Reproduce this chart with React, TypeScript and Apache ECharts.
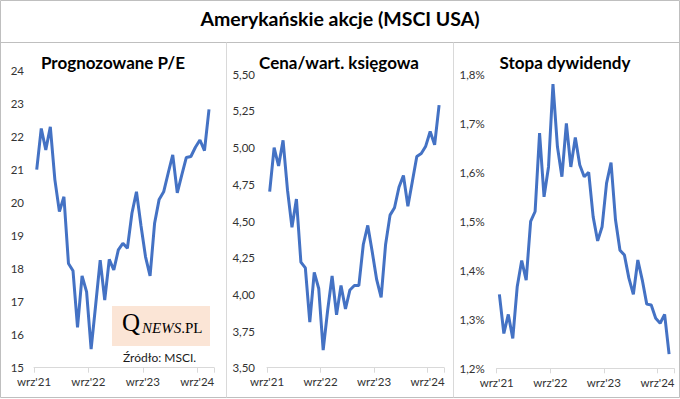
import React, { useEffect, useRef } from "react";
import * as echarts from "echarts";

// X axis: months counted from wrz'21 (September 2021); one point per month-end
const tickLabels = ["wrz'21", "wrz'22", "wrz'23", "wrz'24"];
const monthsPerTick = 12;
const firstPointOffset = 0.6;
const axisMonths = 39.7;

const panelTitles = ["Prognozowane P/E", "Cena/wart. księgowa", "Stopa dywidendy"];
const mainTitle = "Amerykańskie akcje (MSCI USA)";
const sourceText = "Źródło: MSCI.";

// Forward P/E (Sep 2021 .. Nov 2024)
const peForward = [
  21.0, 22.25, 21.6, 22.3, 20.7, 19.73, 20.18, 18.16, 17.94, 16.22, 17.78, 17.3, 15.56,
  16.9, 18.26, 17.05, 18.28, 17.96, 18.57, 18.77, 18.62, 19.68, 20.33, 19.3, 18.36, 17.78,
  19.38, 20.1, 20.33, 20.9, 21.45, 20.3, 20.84, 21.37, 21.4, 21.68, 21.9, 21.58, 22.83,
];
// Price / book value
const priceToBook = [
  4.7, 5.0, 4.875, 5.05, 4.71, 4.457, 4.65, 4.22, 4.18, 3.81, 4.15, 4.04, 3.62,
  3.89, 4.125, 3.86, 4.06, 3.9, 4.03, 4.06, 4.06, 4.34, 4.47, 4.29, 4.1, 3.98,
  4.34, 4.54, 4.59, 4.73, 4.81, 4.6, 4.77, 4.94, 4.96, 5.01, 5.11, 5.02, 5.29,
];
// Dividend yield, %
const dividendYield = [
  1.351, 1.271, 1.31, 1.261, 1.367, 1.42, 1.38, 1.5, 1.52, 1.68, 1.55, 1.611, 1.78,
  1.652, 1.591, 1.7, 1.611, 1.671, 1.615, 1.591, 1.6, 1.509, 1.46, 1.489, 1.578, 1.62,
  1.503, 1.441, 1.431, 1.384, 1.351, 1.421, 1.38, 1.331, 1.329, 1.302, 1.292, 1.31, 1.229,
];

const peAxis = { min: 15, max: 24, interval: 1 };
const pbAxis = { min: 3.5, max: 5.5, interval: 0.25 };
const dyAxis = { min: 1.2, max: 1.8, interval: 0.1 };

const FONT = "Lato";
const LINE = "#4472C4";
const LABEL = "#333333";

export default function App() {
  const ref = useRef<HTMLDivElement>(null);

  useEffect(() => {
    if (!ref.current) return;
    const chart = echarts.init(ref.current, undefined, { renderer: "svg" });

    const grids = [
      { left: 34, top: 70.7, width: 180, height: 297 },
      { left: 267, top: 74.3, width: 177, height: 293.4 },
      { left: 496.7, top: 74.3, width: 177.3, height: 294 },
    ];
    const yAxes = [peAxis, pbAxis, dyAxis];
    const yFormatters = [
      (v: number) => String(Math.round(v)),
      (v: number) => v.toFixed(2).replace(".", ","),
      (v: number) => v.toFixed(1).replace(".", ",") + "%",
    ];
    const seriesData = [peForward, priceToBook, dividendYield];
    const yMargins = [10, 12, 12];
    const titleCenters = [113, 339, 565];

    const xLabel = (v: number) => {
      const idx = Math.round(v / monthsPerTick);
      if (Math.abs(v - idx * monthsPerTick) < 1e-6 && idx < tickLabels.length) return tickLabels[idx];
      return "";
    };

    const option: any = {
      animation: false,
      backgroundColor: "#fff",
      title: [
        {
          text: mainTitle,
          left: 340,
          top: 8,
          textAlign: "center",
          padding: 0,
          textStyle: { fontFamily: FONT, fontSize: 19.5, fontWeight: "bold", color: "#000" },
        },
        ...panelTitles.map((t, i) => ({
          text: t,
          left: titleCenters[i],
          top: 54,
          textAlign: "center",
          padding: 0,
          textStyle: { fontFamily: FONT, fontSize: 17, fontWeight: "bold", color: "#000" },
        })),
      ],
      grid: grids,
      xAxis: grids.map((_, i) => ({
        type: "value",
        gridIndex: i,
        min: 0,
        max: axisMonths,
        interval: monthsPerTick,
        axisLine: { show: true, lineStyle: { color: "#D9D9D9", width: 1 } },
        axisTick: { show: true, length: 5, lineStyle: { color: "#D9D9D9" } },
        splitLine: { show: false },
        axisLabel: { formatter: xLabel, fontFamily: FONT, fontSize: 11.5, color: LABEL, margin: 8 },
      })),
      yAxis: yAxes.map((a, i) => ({
        type: "value",
        gridIndex: i,
        min: a.min,
        max: a.max,
        interval: a.interval,
        axisLine: { show: false },
        axisTick: { show: false },
        splitLine: { show: false },
        axisLabel: { formatter: yFormatters[i], fontFamily: FONT, fontSize: 11.5, color: LABEL, margin: yMargins[i] },
      })),
      series: seriesData.map((arr, i) => ({
        type: "line",
        xAxisIndex: i,
        yAxisIndex: i,
        showSymbol: false,
        symbol: "none",
        lineStyle: { color: LINE, width: 3 },
        data: arr.map((v, k) => [k + firstPointOffset, v]),
      })),
      graphic: [
        { type: "rect", shape: { x: 0.5, y: 0.5, width: 679, height: 397 }, style: { fill: "none", stroke: "#BFBFBF", lineWidth: 1 }, silent: true },
        { type: "line", shape: { x1: 0, y1: 42.5, x2: 680, y2: 42.5 }, style: { stroke: "#BFBFBF", lineWidth: 1 }, silent: true },
        { type: "line", shape: { x1: 226.5, y1: 42.5, x2: 226.5, y2: 397.5 }, style: { stroke: "#D9D9D9", lineWidth: 1 }, silent: true },
        { type: "line", shape: { x1: 453.5, y1: 42.5, x2: 453.5, y2: 397.5 }, style: { stroke: "#D9D9D9", lineWidth: 1 }, silent: true },
        { type: "rect", shape: { x: 112, y: 306, width: 98, height: 40 }, style: { fill: "#FBE5D6" }, silent: true, z: 5 },
        {
          type: "text",
          x: 122,
          y: 335,
          z: 6,
          silent: true,
          style: {
            text: "{q|Q}{n|NEWS}{p|.PL}",
            verticalAlign: "bottom",
            rich: {
              q: { fontFamily: "Liberation Serif", fontSize: 25, fill: "#000", verticalAlign: "bottom", lineHeight: 25 },
              n: { fontFamily: "Liberation Serif", fontSize: 15, fontStyle: "italic", fill: "#000", verticalAlign: "bottom", lineHeight: 21, padding: [0, 0, 0, 2] },
              p: { fontFamily: "Liberation Serif", fontSize: 15, fill: "#000", verticalAlign: "bottom", lineHeight: 21 },
            },
          },
        },
        {
          type: "text",
          x: 123,
          y: 357,
          z: 6,
          silent: true,
          style: { text: sourceText, fontFamily: FONT, fontSize: 12, fill: "#1a1a1a", verticalAlign: "middle", align: "left" },
        },
      ],
    };

    chart.setOption(option);
    return () => chart.dispose();
  }, []);

  return (
    <div
      ref={ref}
      style={{ position: "absolute", left: 0, top: 0, width: 680, height: 399, background: "#fff" }}
    />
  );
}
